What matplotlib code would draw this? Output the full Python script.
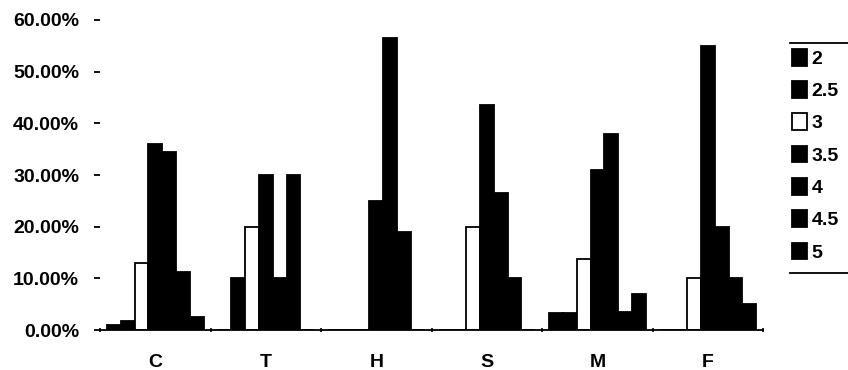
import matplotlib.pyplot as plt
import numpy as np
from matplotlib.lines import Line2D
from matplotlib.ticker import PercentFormatter

plt.rcParams['font.family'] = ['Liberation Sans', 'DejaVu Sans']
plt.rcParams['font.weight'] = 'bold'

categories = ['C', 'T', 'H', 'S', 'M', 'F']
series_names = ['2', '2.5', '3', '3.5', '4', '4.5', '5']

# percent of answers per grade, one list per series
s_2 = [1.0, 0, 0, 0, 3.3, 0]
s_2_5 = [1.8, 10, 0, 0, 3.3, 0]
s_3 = [13, 20, 0, 20, 13.8, 10]
s_3_5 = [36, 30, 25, 43.5, 31, 55]
s_4 = [34.5, 10, 56.5, 26.5, 38, 20]
s_4_5 = [11.3, 30, 19, 10, 3.5, 10]
s_5 = [2.5, 0, 0, 0, 7, 5]

series = [s_2, s_2_5, s_3, s_3_5, s_4, s_4_5, s_5]
faces = ['black', 'black', 'white', 'black', 'black', 'black', 'black']

fig = plt.figure(figsize=(8.48, 3.70), dpi=100)
ax = fig.add_axes([0.118, 0.108, 0.782, 0.838])

x = np.arange(len(categories))
w = 0.125
for k, vals in enumerate(series):
    ax.bar(x + (k - 3) * w, vals, w, color=faces[k], edgecolor='black',
           linewidth=1.3, label=series_names[k])

ax.set_xlim(-0.5, len(categories) - 0.5)
ax.set_ylim(0, 60)
ax.set_yticks(np.arange(0, 61, 10))
ax.yaxis.set_major_formatter(PercentFormatter(xmax=100, decimals=2))
ax.set_xticks(x)
ax.set_xticklabels(categories)
ax.set_xticks(np.arange(-0.5, len(categories), 1), minor=True)

for sp in ['left', 'top', 'right']:
    ax.spines[sp].set_visible(False)
ax.spines['bottom'].set_linewidth(1.3)

ax.tick_params(axis='y', length=4, width=1.3, pad=11, labelsize=14)
ax.tick_params(axis='x', which='major', length=0, pad=17, labelsize=14)
ax.tick_params(axis='x', which='minor', length=3, width=1.2, direction='inout')

leg = fig.legend(loc='upper left', bbox_to_anchor=(0.934, 0.868), frameon=False,
                 fontsize=14, handlelength=0.75, handleheight=0.95,
                 handletextpad=0.25, labelspacing=0.68, borderaxespad=0,
                 borderpad=0)

# top and bottom rules of the legend box (its frame is cut off at the right)
fig.add_artist(Line2D([0.932, 1.0], [0.884, 0.884], color='black', lw=1.3,
                      transform=fig.transFigure))
fig.add_artist(Line2D([0.932, 1.0], [0.262, 0.262], color='black', lw=1.3,
                      transform=fig.transFigure))

fig.savefig('out.png', dpi=100)
